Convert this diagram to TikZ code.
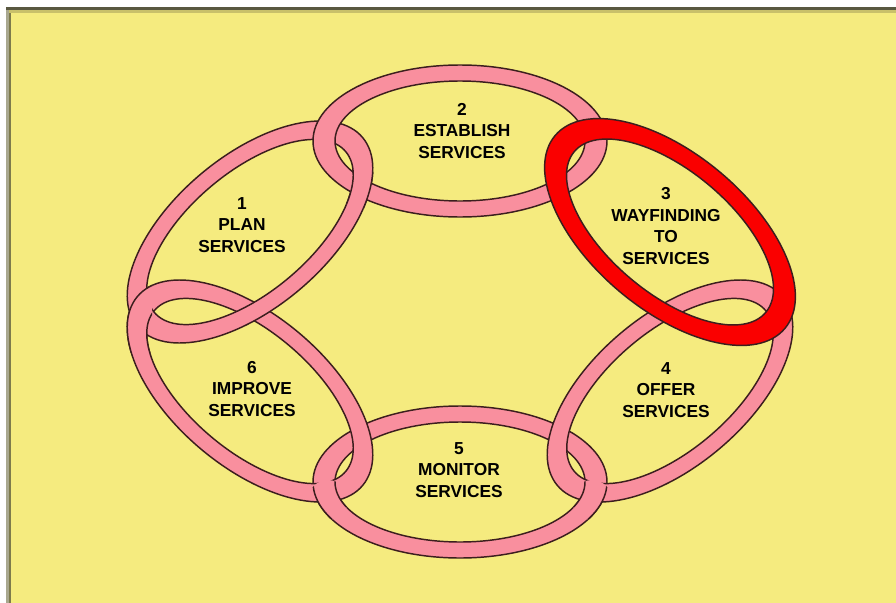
\documentclass[tikz,border=0pt]{standalone}
\usepackage{fontspec}
\setmainfont{Liberation Sans}
\definecolor{bgyellow}{RGB}{245,235,127}
\definecolor{framedark}{RGB}{89,88,64}
\definecolor{frameolive}{RGB}{201,192,106}
\definecolor{framegray}{RGB}{169,168,143}
\definecolor{frameleft}{RGB}{125,122,76}
\definecolor{ringpink}{RGB}{249,143,158}
\definecolor{ringred}{RGB}{250,0,0}
\definecolor{ringedge}{RGB}{60,30,30}

% one ring: centre, angle, colour, outer radii, inner radii (pixels)
\newcommand{\ringband}[7]{%
  \begin{scope}[shift={#1}, rotate=#2]
    \fill[#3, even odd rule] (0,0) ellipse (#4 and #5) (0,0) ellipse (#6 and #7);
    \draw[ringline] (0,0) ellipse (#4 and #5) (0,0) ellipse (#6 and #7);
  \end{scope}}
% the pink ring, at any angle
\newcommand{\pinkring}[2]{\ringband{#1}{#2}{ringpink}{147}{76}{125}{60}}

\begin{document}
\begin{tikzpicture}[x=0.75pt, y=-0.75pt]
    \tikzstyle{ringline}=[draw=ringedge, line width=1.1pt]
    \tikzstyle{step label}=[font=\fontsize{13}{16.2}\selectfont\bfseries, align=center, inner sep=0pt]

    % frame and background
    \fill[white] (0,0) rectangle (896,603);
    \fill[framedark] (6,7) rectangle (896,10);
    \fill[frameolive] (9,10) rectangle (896,13);
    \fill[framegray] (6,10) rectangle (8.7,603);
    \fill[frameleft] (8.7,13) rectangle (11,603);
    \fill[bgyellow] (11,13) rectangle (896,603);
    \useasboundingbox (0,0) rectangle (896,603);

    % the rings, back to front
    \pinkring{(460,482)}{0}
    \pinkring{(250,391)}{-40}
    \pinkring{(670,391)}{40}
    \pinkring{(250,232)}{40}
    \pinkring{(460,141)}{0}

    % crossings where the back ring comes to the front
    \begin{scope}
        \clip (360,188) circle (21);
        \pinkring{(250,232)}{40}
    \end{scope}
    \begin{scope}
        \clip (108,262) rectangle (152,352);
        \pinkring{(250,391)}{-40}
    \end{scope}
    \begin{scope}
        \clip (328,500) circle (20);
        \pinkring{(460,482)}{0}
    \end{scope}
    \begin{scope}
        \clip (592,500) circle (20);
        \pinkring{(460,482)}{0}
    \end{scope}

    % highlighted step
    \ringband{(670,232)}{-40}{ringred}{150}{78}{125}{61}

    % labels
    \node[step label] (plan) at (242,225) {1\\PLAN\\SERVICES};
    \node[step label] (establish) at (462,131) {2\\ESTABLISH\\SERVICES};
    \node[step label] (wayfinding) at (666,226) {3\\WAYFINDING\\TO\\SERVICES};
    \node[step label] (offer) at (666,390) {4\\OFFER\\SERVICES};
    \node[step label] (monitor) at (459,470) {5\\MONITOR\\SERVICES};
    \node[step label] (improve) at (252,389) {6\\IMPROVE\\SERVICES};
\end{tikzpicture}
\end{document}
